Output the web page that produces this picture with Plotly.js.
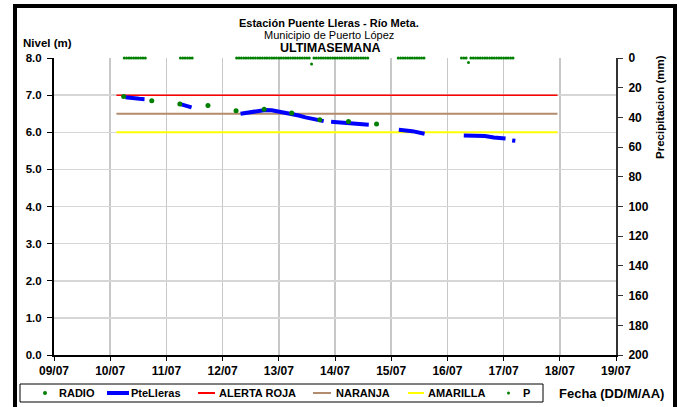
<!DOCTYPE html>
<html>
<head>
<meta charset="utf-8">
<script src="https://cdn.plot.ly/plotly-3.0.1.min.js"></script>
<style>
  html, body { margin: 0; padding: 0; background: #fff; overflow: hidden; }
  #chart { width: 679px; height: 407px; position: absolute; left: 0; top: 0; }
  #frame { position: absolute; left: 13px; top: 4px; width: 664px; height: 420px;
           box-sizing: border-box; border: 4px solid #000; pointer-events: none; z-index: 10; }
</style>
</head>
<body>
<div id="chart"></div>
<div id="frame"></div>
<script>
// ---- Data ----
const radioTimes = ["2013-07-10 05:45","2013-07-10 17:45","2013-07-11 05:45","2013-07-11 17:45",
  "2013-07-12 05:45","2013-07-12 17:45","2013-07-13 05:30","2013-07-13 17:30",
  "2013-07-14 05:45","2013-07-14 17:45"];
const radioLevels = [6.96, 6.85, 6.76, 6.72, 6.58, 6.62, 6.52, 6.34, 6.29, 6.22];

const pteTimes = [
  "2013-07-10 06:30","2013-07-10 08:30","2013-07-10 10:30","2013-07-10 12:30","2013-07-10 14:40","2013-07-10 20:00",
  "2013-07-11 05:15","2013-07-11 08:00","2013-07-11 10:45","2013-07-11 20:00",
  "2013-07-12 07:40","2013-07-12 10:00","2013-07-12 12:40","2013-07-12 15:30","2013-07-12 18:20","2013-07-12 21:00",
  "2013-07-13 00:00","2013-07-13 03:00","2013-07-13 05:45","2013-07-13 08:30","2013-07-13 11:25","2013-07-13 15:00","2013-07-13 19:10","2013-07-13 20:30",
  "2013-07-13 22:20","2013-07-14 01:00","2013-07-14 05:00","2013-07-14 09:00","2013-07-14 12:00","2013-07-14 14:25","2013-07-14 20:00",
  "2013-07-15 03:15","2013-07-15 09:00","2013-07-15 14:15","2013-07-15 20:00",
  "2013-07-16 07:00","2013-07-16 14:10","2013-07-16 16:00","2013-07-16 19:50","2013-07-17 00:50","2013-07-17 02:00",
  "2013-07-17 03:40","2013-07-17 05:00"];
const pteLevels = [
  6.94, 6.92, 6.91, 6.90, 6.89, null,
  6.77, 6.73, 6.67, null,
  6.50, 6.52, 6.54, 6.58, 6.60, 6.59,
  6.56, 6.53, 6.50, 6.45, 6.40, 6.35, 6.30, null,
  6.28, 6.27, 6.26, 6.24, 6.21, 6.20, null,
  6.07, 6.03, 5.96, null,
  5.91, 5.91, 5.90, 5.86, 5.83, null,
  5.78, 5.77];

const thresholdTimes = ["2013-07-10 02:40", "2013-07-17 23:00"];
const alertaRoja = [7.0, 7.0];
const naranja = [6.5, 6.5];
const amarilla = [6.0, 6.0];

const pTimes = [
  "2013-07-10 06:00","2013-07-10 07:00","2013-07-10 08:00","2013-07-10 09:00","2013-07-10 10:00","2013-07-10 11:00","2013-07-10 12:00","2013-07-10 13:00","2013-07-10 14:00","2013-07-10 15:00",
  "2013-07-11 06:00","2013-07-11 07:00","2013-07-11 08:00","2013-07-11 09:00","2013-07-11 10:00","2013-07-11 11:00",
  "2013-07-12 06:00","2013-07-12 07:00","2013-07-12 08:00","2013-07-12 09:00","2013-07-12 10:00","2013-07-12 11:00","2013-07-12 12:00","2013-07-12 13:00","2013-07-12 14:00",
  "2013-07-12 15:00","2013-07-12 16:00","2013-07-12 17:00","2013-07-12 18:00","2013-07-12 19:00","2013-07-12 20:00","2013-07-12 21:00","2013-07-12 22:00","2013-07-12 23:00",
  "2013-07-13 00:00","2013-07-13 01:00","2013-07-13 02:00","2013-07-13 03:00","2013-07-13 04:00","2013-07-13 05:00","2013-07-13 06:00","2013-07-13 07:00","2013-07-13 08:00","2013-07-13 09:00",
  "2013-07-13 10:00","2013-07-13 11:00","2013-07-13 12:00","2013-07-13 13:00","2013-07-13 14:00","2013-07-13 15:00","2013-07-13 16:00","2013-07-13 17:00","2013-07-13 18:00","2013-07-13 19:00",
  "2013-07-13 20:00","2013-07-13 21:00","2013-07-13 22:00","2013-07-13 23:00",
  "2013-07-14 00:00","2013-07-14 01:00","2013-07-14 02:00","2013-07-14 03:00","2013-07-14 04:00","2013-07-14 05:00","2013-07-14 06:00","2013-07-14 07:00","2013-07-14 08:00","2013-07-14 09:00",
  "2013-07-14 10:00","2013-07-14 11:00","2013-07-14 12:00","2013-07-14 13:00","2013-07-14 14:00",
  "2013-07-15 03:00","2013-07-15 04:00","2013-07-15 05:00","2013-07-15 06:00","2013-07-15 07:00","2013-07-15 08:00","2013-07-15 09:00","2013-07-15 10:00","2013-07-15 11:00",
  "2013-07-15 12:00","2013-07-15 13:00","2013-07-15 14:00",
  "2013-07-16 06:00","2013-07-16 07:00","2013-07-16 08:00","2013-07-16 09:00","2013-07-16 10:00","2013-07-16 11:00","2013-07-16 12:00","2013-07-16 13:00","2013-07-16 14:00",
  "2013-07-16 15:00","2013-07-16 16:00","2013-07-16 17:00","2013-07-16 18:00","2013-07-16 19:00","2013-07-16 20:00","2013-07-16 21:00","2013-07-16 22:00","2013-07-16 23:00",
  "2013-07-17 00:00","2013-07-17 01:00","2013-07-17 02:00","2013-07-17 03:00","2013-07-17 04:00"];
const pValues = [
  0,0,0,0,0,0,0,0,0,0,
  0,0,0,0,0,0,
  0,0,0,0,0,0,0,0,0,
  0,0,0,0,0,0,0,0,0,
  0,0,0,0,0,0,0,0,0,0,
  0,0,0,0,4,0,0,0,0,0,
  0,0,0,0,
  0,0,0,0,0,0,0,0,0,0,
  0,0,0,0,0,
  0,0,0,0,0,0,0,0,0,
  0,0,0,
  0,0,0,3,0,0,0,0,0,
  0,0,0,0,0,0,0,0,0,
  0,0,0,0,0];

const xTickVals = ["2013-07-09","2013-07-10","2013-07-11","2013-07-12","2013-07-13","2013-07-14",
  "2013-07-15","2013-07-16","2013-07-17","2013-07-18","2013-07-19"];
const xTickText = ["09/07","10/07","11/07","12/07","13/07","14/07","15/07","16/07","17/07","18/07","19/07"];

const legendNames = ["RADIO", "PteLleras", "ALERTA ROJA", "NARANJA", "AMARILLA", "P"];
const legendColors = ["#008000", "#0000ff", "#ff0000", "#b38b6d", "#ffff00", "#008000"];

// ---- Layout helpers (pixel -> paper coords for decorations) ----
const M = { l: 54, r: 63, t: 58, b: 52 };
const W = 679 - M.l - M.r, H = 407 - M.t - M.b;
const PX = px => (px - M.l) / W;
const PY = py => (407 - M.b - py) / H;

// ---- Chart ----
const FONT = "Arial, 'Liberation Sans', sans-serif";
const trRadio = { name: legendNames[0], x: radioTimes, y: radioLevels, type: "scatter", mode: "markers",
    marker: { color: legendColors[0], size: 5 }, cliponaxis: false };
const trPte = { name: legendNames[1], x: pteTimes, y: pteLevels, type: "scatter", mode: "lines",
    line: { color: legendColors[1], width: 4 }, connectgaps: false };
const trRoja = { name: legendNames[2], x: thresholdTimes, y: alertaRoja, type: "scatter", mode: "lines",
    line: { color: legendColors[2], width: 1.5 } };
const trNaranja = { name: legendNames[3], x: thresholdTimes, y: naranja, type: "scatter", mode: "lines",
    line: { color: legendColors[3], width: 2 } };
const trAmarilla = { name: legendNames[4], x: thresholdTimes, y: amarilla, type: "scatter", mode: "lines",
    line: { color: legendColors[4], width: 2 } };
const trP = { name: legendNames[5], x: pTimes, y: pValues, yaxis: "y2", type: "scatter", mode: "markers",
    marker: { color: legendColors[5], size: 3 }, cliponaxis: false };

const data = [trRoja, trNaranja, trAmarilla, trPte, trRadio, trP];

// legend drawn as a boxed row below the plot
const LY = 393;
const shapes = [
  { type: "rect", xref: "paper", yref: "paper", x0: PX(20), x1: PX(543), y0: PY(384), y1: PY(402),
    line: { color: "#000", width: 1 }, fillcolor: "#fff", layer: "above" },
  { type: "circle", xref: "paper", yref: "paper", x0: PX(43), x1: PX(47), y0: PY(391), y1: PY(395),
    line: { width: 0 }, fillcolor: legendColors[0] },
  { type: "line", xref: "paper", yref: "paper", x0: PX(107), x1: PX(129), y0: PY(LY), y1: PY(LY),
    line: { color: legendColors[1], width: 4 } },
  { type: "line", xref: "paper", yref: "paper", x0: PX(198), x1: PX(215), y0: PY(LY), y1: PY(LY),
    line: { color: legendColors[2], width: 2 } },
  { type: "line", xref: "paper", yref: "paper", x0: PX(313), x1: PX(331), y0: PY(LY), y1: PY(LY),
    line: { color: legendColors[3], width: 2 } },
  { type: "line", xref: "paper", yref: "paper", x0: PX(408), x1: PX(424), y0: PY(LY), y1: PY(LY),
    line: { color: legendColors[4], width: 2 } },
  { type: "circle", xref: "paper", yref: "paper", x0: PX(507), x1: PX(510), y0: PY(391.5), y1: PY(394.5),
    line: { width: 0 }, fillcolor: legendColors[5] }
];
const legendTextX = [57, 129, 217, 334, 426, 521];

const annotations = [
  { text: "<b>Estación Puente Lleras - Río Meta.</b>", x: PX(329), y: PY(23), xanchor: "center",
    font: { family: FONT, size: 11 } },
  { text: "Municipio de Puerto López", x: PX(329), y: PY(35), xanchor: "center",
    font: { family: FONT, size: 11 } },
  { text: "<b>ULTIMASEMANA</b>", x: PX(330), y: PY(47.5), xanchor: "center",
    font: { family: FONT, size: 12.5 } },
  { text: "<b>Nivel (m)</b>", x: PX(21), y: PY(43.5), xanchor: "left",
    font: { family: FONT, size: 11.5 } },
  { text: "<b>Precipitacion (mm)</b>", x: PX(660), y: PY(107), xanchor: "center", textangle: -90,
    font: { family: FONT, size: 11.5 } },
  { text: "<b>Fecha (DD/M/AA)</b>", x: PX(666), y: PY(393), xanchor: "right",
    font: { family: FONT, size: 13 } }
].concat(legendNames.map((n, i) => ({
  text: "<b>" + n + "</b>", x: PX(legendTextX[i]), y: PY(LY), xanchor: "left",
  font: { family: FONT, size: 11 }
}))).map(a => Object.assign({ xref: "paper", yref: "paper", yanchor: "middle", showarrow: false }, a));

const layout = {
  width: 679, height: 407,
  margin: { l: M.l, r: M.r, t: M.t, b: M.b, autoexpand: false },
  paper_bgcolor: "#ffffff", plot_bgcolor: "#ffffff",
  font: { family: FONT, size: 11, color: "#000" },
  showlegend: false,
  xaxis: {
    type: "date", range: ["2013-07-09", "2013-07-19"],
    tickmode: "array", tickvals: xTickVals, ticktext: xTickText,
    tickfont: { family: FONT, size: 12, weight: "bold" },
    showgrid: true, gridcolor: "#c8c8c8", gridwidth: 1.5,
    showline: true, linecolor: "#000", linewidth: 2,
    ticks: "outside", ticklen: 4, tickcolor: "#000", zeroline: false
  },
  yaxis: {
    range: [0, 8], dtick: 1, tickformat: ".1f",
    tickfont: { family: FONT, size: 11.5, weight: "bold" },
    showgrid: true, gridcolor: "#d6d6d6", gridwidth: 1.5,
    showline: true, linecolor: "#000", linewidth: 2,
    ticks: "outside", ticklen: 5, tickcolor: "#000", zeroline: false,
    ticklabelstandoff: 3
  },
  yaxis2: {
    overlaying: "y", side: "right", range: [200, 0], dtick: 20,
    tickfont: { family: FONT, size: 12, weight: "bold" },
    showgrid: false, showline: true, linecolor: "#333", linewidth: 2,
    ticks: "outside", ticklen: 5, tickcolor: "#333", zeroline: false,
    ticklabelstandoff: 3
  },
  shapes: shapes,
  annotations: annotations
};

Plotly.newPlot("chart", data, layout, { displayModeBar: false, staticPlot: true });
</script>
</body>
</html>
